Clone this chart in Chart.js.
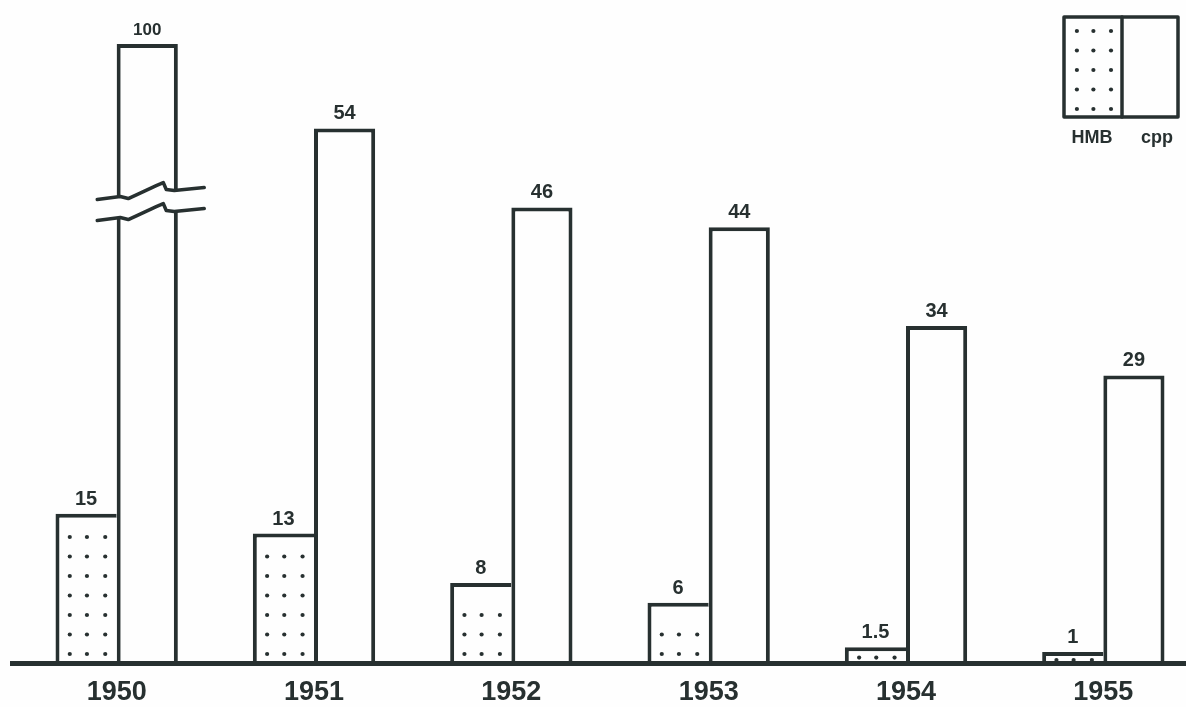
<!DOCTYPE html>
<html><head><meta charset="utf-8">
<script src="https://cdn.jsdelivr.net/npm/chart.js@4.4.1/dist/chart.umd.min.js"></script>
<style>
html,body{margin:0;padding:0;background:#fefefe;overflow:hidden;width:1186px;height:707px}
#wrap{position:absolute;left:0;top:0;width:1202px;height:707px}
</style></head>
<body><div id="wrap"><canvas id="c" width="1202" height="707"></canvas></div>
<script>
// ---- data ----
const years = ['1950', '1951', '1952', '1953', '1954', '1955'];
const hmbValues = [15, 13, 8, 6, 1.5, 1];
const cppValues = [100, 54, 46, 44, 34, 29];
const legendLabels = ['HMB', 'cpp'];
// broken bar settings: bars above breakAbove are broken at breakAt and drawn compressed above it
const breakAbove = 60;
const breakAt = 46.5;
const breakRatio = 0.3;
const yMax = 67;

const ink = '#273030';
const paper = '#fefefe';

function isBroken(v) { return v > breakAbove; }
function toDisplay(v) { return isBroken(v) ? breakAt + (v - breakAt) * breakRatio : v; }

function drawDots(ctx, left, right, top, bottom) {
  const w = right - left;
  const cols = [0.18, 0.48, 0.8].map(f => left + w * f);
  const rows = [];
  for (let y = bottom - 8; y >= top + 10; y -= 19.5) rows.push(y);
  if (!rows.length) rows.push((top + bottom) / 2 + 1);
  ctx.fillStyle = ink;
  rows.forEach(y => cols.forEach(x => { ctx.beginPath(); ctx.arc(x, y, 2.1, 0, Math.PI * 2); ctx.fill(); }));
}

const wave = [[-50,2],[-27,-1],[-19,1],[-6,-5],[9,-12],[16,-15],[19,-8],[27,-7],[57,-10]];
function wavePath(ctx, cx, yr, reverse) {
  const pts = reverse ? wave.slice().reverse() : wave;
  pts.forEach((p, i) => { if (i === 0 && !reverse) ctx.moveTo(cx + p[0], yr + p[1]); else ctx.lineTo(cx + p[0], yr + p[1]); });
}

const decor = {
  id: 'decor',
  beforeDraw(chart) {
    const c = chart.ctx;
    c.save(); c.fillStyle = paper; c.fillRect(0, 0, chart.width, chart.height); c.restore();
  },
  afterDatasetsDraw(chart) {
    const c = chart.ctx;
    const area = chart.chartArea;
    const yScale = chart.scales.y;
    c.save();
    // dots in HMB bars
    chart.getDatasetMeta(0).data.forEach(el => {
      const p = el.getProps(['x', 'y', 'base', 'width'], true);
      drawDots(c, p.x - p.width / 2 + 4, p.x + p.width / 2, p.y + 4, p.base);
    });
    // axis break on oversized bars
    chart.getDatasetMeta(1).data.forEach((el, i) => {
      if (!isBroken(cppValues[i])) return;
      const p = el.getProps(['x', 'y', 'base', 'width'], true);
      const yc = yScale.getPixelForValue(breakAt);
      const y1 = yc - 5, y2 = yc + 16;
      c.beginPath();
      wavePath(c, p.x, y1, false);
      wavePath(c, p.x, y2, true);
      c.closePath();
      c.fillStyle = paper; c.fill();
      c.strokeStyle = ink; c.lineWidth = 3.5; c.lineJoin = 'round'; c.lineCap = 'round';
      c.beginPath(); wavePath(c, p.x, y1, false); c.stroke();
      c.beginPath(); wavePath(c, p.x, y2, false); c.stroke();
    });
    // value labels
    c.fillStyle = ink;
    c.textAlign = 'center'; c.textBaseline = 'alphabetic';
    [hmbValues, cppValues].forEach((vals, di) => {
      chart.getDatasetMeta(di).data.forEach((el, i) => {
        const p = el.getProps(['x', 'y'], true);
        c.font = (vals[i] >= 100 ? 'bold 17px' : 'bold 20px') + ' "Liberation Sans", Arial, sans-serif';
        c.fillText(String(vals[i]), p.x, p.y - 9);
      });
    });
    // baseline
    c.fillRect(10, area.bottom - 1, chart.width - 10, 5);
    // legend box
    const lx = 1064, ly = 17, lw = 114, lh = 100, lm = lx + 58;
    c.fillStyle = paper; c.fillRect(lx, ly, lw, lh);
    drawDots(c, lx + 3, lm, ly + 4, lh + ly);
    c.strokeStyle = ink; c.lineWidth = 3.5;
    c.strokeRect(lx, ly, lw, lh);
    c.beginPath(); c.moveTo(lm, ly); c.lineTo(lm, ly + lh); c.stroke();
    c.fillStyle = ink;
    c.font = 'bold 18px "Liberation Sans Narrow", "Liberation Sans", Arial, sans-serif';
    c.textBaseline = 'middle';
    c.fillText(legendLabels[0], 1092, 138);
    c.fillText(legendLabels[1], 1157, 138);
    c.restore();
  }
};

new Chart(document.getElementById('c'), {
  type: 'bar',
  data: {
    labels: years,
    datasets: [
      { label: legendLabels[0], data: hmbValues, backgroundColor: paper, borderColor: ink,
        borderWidth: { left: 4, top: 4, right: 0, bottom: 0 }, borderSkipped: false,
        categoryPercentage: 0.62, barPercentage: 1 },
      { label: legendLabels[1], data: cppValues.map(toDisplay), backgroundColor: paper, borderColor: ink,
        borderWidth: { left: 4, top: 4, right: 4, bottom: 0 }, borderSkipped: false,
        categoryPercentage: 0.62, barPercentage: 1 }
    ]
  },
  options: {
    responsive: false,
    animation: false,
    devicePixelRatio: 1,
    layout: { padding: { left: 18, right: 0, top: 0, bottom: 0 } },
    plugins: { legend: { display: false }, tooltip: { enabled: false } },
    scales: {
      x: {
        grid: { display: false, drawTicks: false },
        border: { display: false },
        ticks: { color: ink, padding: 14, maxRotation: 0, autoSkip: false,
          font: { family: '"Liberation Sans", Arial, sans-serif', size: 27, weight: 'bold' } },
        afterFit(s) { s.height = 45; }
      },
      y: { display: false, min: 0, max: yMax }
    }
  },
  plugins: [decor]
});
</script>
</body></html>
